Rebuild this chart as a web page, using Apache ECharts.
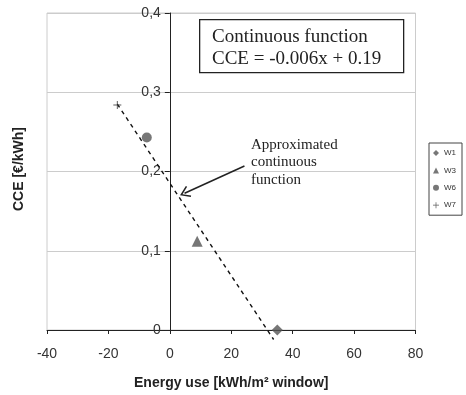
<!DOCTYPE html>
<html><head><meta charset="utf-8">
<script src="https://cdn.jsdelivr.net/npm/echarts@6/dist/echarts.min.js"></script>
<style>html,body{margin:0;padding:0;background:#fff}#c{width:466px;height:395px}</style>
</head><body><div id="c"></div>
<script>
// Data
const seriesNames = ['W1', 'W3', 'W6', 'W7'];
const w1 = [[35.0, 0.0]];
const w3 = [[8.9, 0.112]];
const w6 = [[-7.5, 0.243]];
const w7 = [[-17.1, 0.284]];
const fitLine = [[-17.1, 0.285], [33.8, -0.012]];
const arrowFrom = [24.3, 0.207];
const arrowTo = [4.8, 0.1725];
const xTicks = [-40, -20, 0, 20, 40, 60, 80];
const yTicks = [0, 0.1, 0.2, 0.3, 0.4];

const chart = echarts.init(document.getElementById('c'), null, {renderer: 'canvas'});
const markColor = '#555555';
const plusPath = 'path://M4.4,0h1.2v10h-1.2zM0,4.4h10v1.2h-10z';
const chevron = 'path://M5,0L10,8.6L9,9.4L5,2.6L1,9.4L0,8.6Z';

const gridLeft = 47, gridRight = 50.5;
const xMin = xTicks[0], xMax = xTicks[xTicks.length - 1];
const plotW = 466 - gridLeft - gridRight;
// place the y axis (with its labels) where x = 0
const yAxisOffset = -plotW * (0 - xMin) / (xMax - xMin);

chart.setOption({
  animation: false,
  grid: {left: gridLeft, right: gridRight, top: 13, bottom: 62, show: true, borderColor: '#cccccc', borderWidth: 1},
  legend: {
    data: seriesNames,
    orient: 'vertical',
    left: 429, top: 143,
    padding: [6, 6, 6, 4],
    itemGap: 9.4,
    itemWidth: 6, itemHeight: 6,
    borderColor: '#444', borderWidth: 1,
    textStyle: {fontFamily: 'Liberation Sans, Arial', fontSize: 8, color: '#333'}
  },
  xAxis: {
    type: 'value', min: xMin, max: xMax, interval: 20,
    axisLine: {onZero: true, lineStyle: {color: '#222', width: 1}},
    axisTick: {show: true, length: 4, lineStyle: {color: '#222'}},
    axisLabel: {fontFamily: 'Liberation Sans, Arial', fontSize: 14, color: '#333', margin: 17},
    splitLine: {show: false},
    name: 'Energy use [kWh/m² window]', nameLocation: 'middle', nameGap: 46,
    nameTextStyle: {fontFamily: 'Liberation Sans, Arial', fontSize: 14, fontWeight: 'bold', color: '#222'}
  },
  yAxis: {
    type: 'value', min: yTicks[0], max: yTicks[yTicks.length - 1], interval: 0.1,
    position: 'left', offset: yAxisOffset,
    axisLine: {show: true, onZero: false, lineStyle: {color: '#222', width: 1}},
    axisTick: {show: true, length: 5, lineStyle: {color: '#222'}},
    axisLabel: {fontFamily: 'Liberation Sans, Arial', fontSize: 14, color: '#333', margin: 9,
      formatter: v => (Math.round(v * 10) / 10).toString().replace('.', ',')},
    splitLine: {show: true, lineStyle: {color: '#cccccc', width: 1}}
  },
  series: [
    {name: 'W1', type: 'scatter', data: w1, symbol: 'diamond', symbolSize: 11, itemStyle: {color: markColor}, z: 5},
    {name: 'W3', type: 'scatter', data: w3, symbol: 'triangle', symbolSize: 11, itemStyle: {color: markColor}, z: 5},
    {name: 'W6', type: 'scatter', data: w6, symbol: 'circle', symbolSize: 10, itemStyle: {color: markColor}, z: 5},
    {name: 'W7', type: 'scatter', data: w7, symbol: plusPath, symbolSize: 8, itemStyle: {color: '#333'}, z: 5},
    {name: 'fit', type: 'line', data: fitLine, showSymbol: false, symbol: 'none', clip: false,
      lineStyle: {color: '#111', width: 1.4, type: [4, 4]}, z: 3,
      markLine: {
        silent: true, symbol: ['none', chevron], symbolSize: [12, 10],
        label: {show: false},
        lineStyle: {color: '#222', width: 1.5, type: 'solid'},
        data: [[{coord: arrowFrom}, {coord: arrowTo}]]
      }
    }
  ],
  graphic: [
    {type: 'rect', left: 199, top: 19, shape: {width: 204, height: 53},
      style: {fill: '#fff', stroke: '#222', lineWidth: 1.3}, z: 10},
    {type: 'text', left: 212, top: 26, z: 11,
      style: {text: 'Continuous function\nCCE = -0.006x + 0.19', font: '19px "Liberation Serif", "Times New Roman", serif', fill: '#222', lineHeight: 22}},
    {type: 'text', left: 251, top: 136, z: 11,
      style: {text: 'Approximated\ncontinuous\nfunction', font: '15px "Liberation Serif", "Times New Roman", serif', fill: '#222', lineHeight: 17.5}},
    {type: 'text', x: 19, y: 169, rotation: Math.PI / 2, z: 11,
      style: {text: 'CCE [€/kWh]', font: 'bold 14px "Liberation Sans", Arial', fill: '#222', align: 'center', verticalAlign: 'middle'}}
  ]
});
</script></body></html>
